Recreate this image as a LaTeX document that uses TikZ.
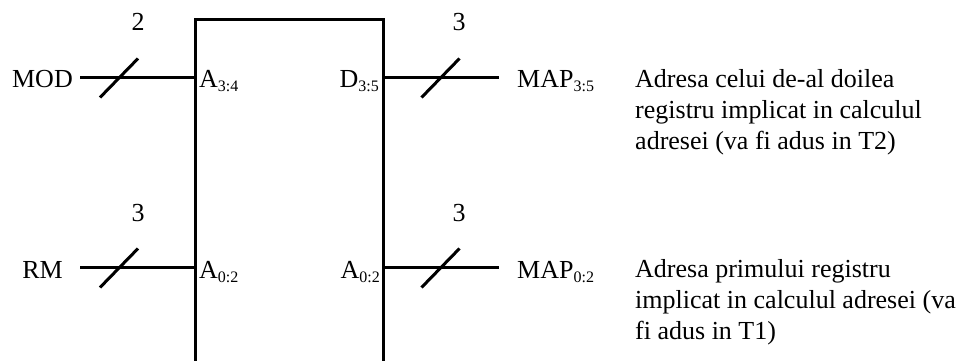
\documentclass[tikz,border=0pt]{standalone}
\usepackage{fontspec}
\setmainfont{Liberation Serif}
\newcommand{\lsub}[1]{\raisebox{-4pt}{\fontsize{16}{16}\selectfont #1}}
\begin{document}
\begin{tikzpicture}[x=1pt,y=-1pt,
  wire/.style={line width=3pt},
  slashmark/.style={line width=3pt},
  lbl/.style={inner sep=0pt, font=\fontsize{26}{31}\selectfont},
  desc/.style={lbl, align=left, anchor=base west}]
\useasboundingbox (0,0) rectangle (958,361);
% box (open at bottom)
\coordinate (boxTL) at (195,20);
\coordinate (boxTR) at (383,20);
\coordinate (boxBL) at (195,362);
\coordinate (boxBR) at (383,362);
\draw[wire, line join=miter] (boxBL) -- (boxTL) -- (boxTR) -- (boxBR);
% pins
\coordinate (pinMOD) at (195,77);
\coordinate (pinRM) at (195,267);
\coordinate (pinD) at (383,77);
\coordinate (pinA) at (383,267);
\coordinate (endMOD) at (80,77);
\coordinate (endRM) at (80,267);
\coordinate (endMAP35) at (499,77);
\coordinate (endMAP02) at (499,267);
\draw[wire] (endMOD) -- (pinMOD);
\draw[wire] (endRM) -- (pinRM);
\draw[wire] (pinD) -- (endMAP35);
\draw[wire] (pinA) -- (endMAP02);
% bus slashes
\coordinate (sMOD) at (119,77.5);
\coordinate (sRM) at (119,267.5);
\coordinate (sD) at (440.5,77.5);
\coordinate (sA) at (440.5,267.5);
\foreach \c in {sMOD,sRM,sD,sA}
  \draw[slashmark] ([shift={(-19,20)}]\c) -- ([shift={(19,-19)}]\c);
% widths
\node[lbl, anchor=base] (w2) at (138,31) {2};
\node[lbl, anchor=base] (w3a) at (138,221) {3};
\node[lbl, anchor=base] (w3b) at (459,31) {3};
\node[lbl, anchor=base] (w3c) at (459,221) {3};
% outer labels
\node[lbl, anchor=base east] (mod) at (73,88) {MOD};
\node[lbl, anchor=base east] (rm) at (63,278) {RM};
\node[lbl, anchor=base west] (map35) at (517,88) {MAP\lsub{3:5}};
\node[lbl, anchor=base west] (map02) at (517,278) {MAP\lsub{0:2}};
% pin labels
\node[lbl, anchor=base west] (a34) at (199,88) {A\lsub{3:4}};
\node[lbl, anchor=base west] (a02l) at (199,278) {A\lsub{0:2}};
\node[lbl, anchor=base east] (d35) at (379,88) {D\lsub{3:5}};
\node[lbl, anchor=base east] (a02r) at (380,278) {A\lsub{0:2}};
% descriptions (base = last line)
\node[desc] (desc1) at (635,149) {Adresa celui de-al doilea\\registru implicat in calculul\\adresei (va fi adus in T2)};
\node[desc] (desc2) at (635,339) {Adresa primului registru\\implicat in calculul adresei (va\\fi adus in T1)};
\end{tikzpicture}
\end{document}
